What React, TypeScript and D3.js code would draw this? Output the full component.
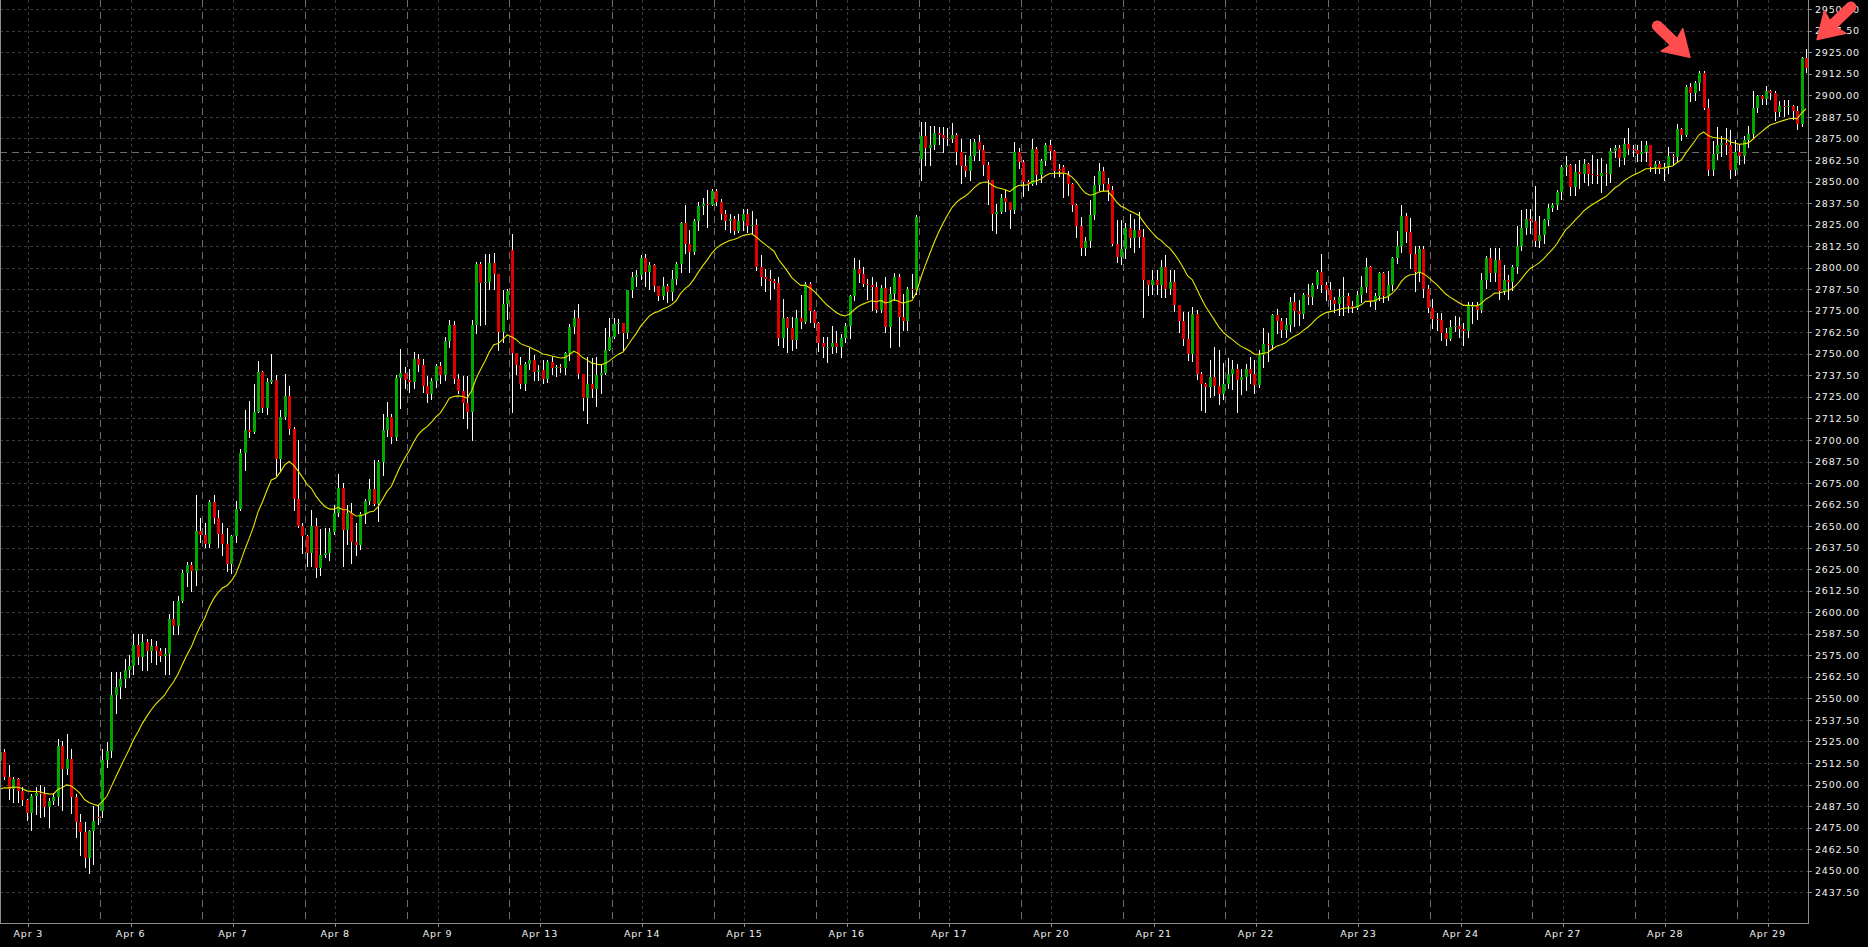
import React from "react";
import * as d3 from "d3";

// ---------- data ----------
const sessionLabels = [
  "Apr 3", "Apr 6", "Apr 7", "Apr 8", "Apr 9", "Apr 13", "Apr 14", "Apr 15", "Apr 16",
  "Apr 17", "Apr 20", "Apr 21", "Apr 22", "Apr 23", "Apr 24", "Apr 27", "Apr 28", "Apr 29",
];

const yTickValues = [
  2437.5, 2450, 2462.5, 2475, 2487.5, 2500, 2512.5, 2525, 2537.5, 2550, 2562.5, 2575, 2587.5,
  2600, 2612.5, 2625, 2637.5, 2650, 2662.5, 2675, 2687.5, 2700, 2712.5, 2725, 2737.5, 2750,
  2762.5, 2775, 2787.5, 2800, 2812.5, 2825, 2837.5, 2850, 2862.5, 2875, 2887.5, 2900, 2912.5,
  2925, 2937.5, 2950,
];

const opens = [
  2513.9,2518.7,2504.6,2497.5,2503.3,2496.5,2491.1,2483.5,2493.2,2495.1,2494.4,2487.2,2490.7,2493.0,2522.6,2509.1,2514.9,2493.0,2478.5,2472.7,2457.6,2473.1,2481.0,
  2484.7,2514.1,2519.2,2551.9,2556.9,2561.4,2566.4,2569.0,2581.0,2574.0,2582.8,2577.8,2580.3,2577.3,2574.7,2576.0,2596.1,2592.3,2606.7,2623.0,2627.5,2623.8,2647.4,
  2644.9,2639.9,2664.0,2654.5,2645.7,2639.9,2628.1,2644.4,2660.0,2692.2,2706.0,2704.8,2716.1,2739.5,2718.6,2733.7,2734.9,2689.2,2713.3,2725.4,2706.5,2665.8,2649.9,
  2644.4,2634.3,2650.2,2625.5,2633.1,2634.3,2646.4,2657.5,2672.1,2647.7,2657.5,2640.6,2638.9,2657.0,2664.5,2671.3,2662.8,2687.2,2706.0,2713.6,2701.5,2735.7,2738.7,
  2735.0,2733.7,2747.0,2743.7,2731.2,2726.6,2734.2,2743.2,2737.5,2757.6,2766.9,2735.3,2728.5,2721.7,2716.3,2766.6,2802.0,2791.2,2791.8,2803.0,2796.2,2762.7,2779.2,
  2810.5,2750.2,2743.4,2732.7,2744.0,2746.7,2739.5,2740.5,2735.3,2745.3,2742.0,2742.6,2741.6,2750.2,2765.6,2770.5,2738.5,2724.6,2732.4,2729.5,2737.6,2739.0,2752.5,
  2759.8,2767.2,2767.7,2761.8,2786.9,2794.3,2795.6,2805.7,2797.6,2801.4,2789.3,2783.4,2789.3,2786.0,2793.7,2802.0,2826.0,2813.6,2809.2,2827.0,2835.7,2837.2,2836.3,
  2844.6,2838.2,2831.4,2827.2,2828.5,2821.4,2827.0,2831.0,2824.1,2824.7,2800.1,2794.3,2793.7,2792.4,2791.2,2758.9,2770.5,2764.7,2758.3,2770.5,2768.6,2790.4,2774.9,
  2768.0,2756.4,2753.7,2754.0,2756.4,2754.0,2759.4,2766.0,2783.4,2799.5,2796.6,2790.8,2789.8,2788.9,2775.3,2788.3,2765.3,2785.0,2794.7,2771.5,2769.1,2787.9,2787.3,
  2863.3,2876.3,2869.5,2871.1,2877.9,2877.1,2875.5,2874.4,2876.9,2867.2,2859.1,2856.0,2864.7,2873.0,2868.2,2859.5,2851.1,2831.0,2832.4,2840.5,2838.2,2833.7,2867.0,
  2861.4,2849.8,2848.8,2869.1,2853.7,2861.8,2871.1,2867.8,2857.0,2858.5,2854.2,2848.8,2836.2,2824.3,2811.5,2815.3,2830.4,2848.2,2856.2,2848.8,2845.3,2814.0,2806.3,
  2811.1,2823.1,2817.5,2821.7,2817.9,2792.7,2789.8,2792.7,2790.2,2800.1,2787.9,2791.8,2778.2,2769.1,2758.8,2749.8,2773.0,2738.2,2732.3,2730.8,2736.6,2731.2,2726.9,
  2732.7,2738.5,2741.4,2735.0,2736.6,2741.4,2738.1,2731.8,2749.2,2755.9,2755.0,2772.4,2769.1,2764.1,2766.6,2780.1,2774.9,2773.4,2784.0,2783.0,2789.8,2797.6,2789.8,
  2787.0,2781.1,2779.2,2783.0,2783.4,2777.6,2776.6,2784.4,2788.8,2800.4,2779.9,2783.4,2796.9,2783.4,2790.2,2805.6,2812.4,2830.2,2820.6,2808.2,2797.3,2810.9,2787.7,
  2776.6,2770.2,2769.5,2762.1,2758.6,2765.6,2766.0,2764.5,2763.5,2777.6,2777.8,2775.3,2792.7,2805.6,2796.9,2804.7,2786.3,2792.7,2791.5,2800.4,2812.8,2823.0,2828.0,
  2827.0,2815.3,2819.2,2827.5,2834.7,2836.6,2844.0,2858.5,2859.3,2846.9,2855.4,2854.6,2860.4,2854.6,2853.6,2853.0,2855.0,2854.6,2867.6,2869.5,2863.7,2872.0,2868.9,
  2868.2,2866.2,2867.2,2871.4,2858.5,2860.4,2857.3,2858.5,2865.0,2864.2,2880.5,2877.2,2904.9,2901.4,2907.2,2913.0,2892.7,2856.9,2866.2,2871.4,2872.4,2871.4,2856.5,
  2867.2,2864.7,2874.0,2877.8,2892.7,2899.5,2898.1,2902.4,2901.4,2890.2,2894.1,2893.4,2894.1,2890.8,2883.1,2921.7,
];

const highs = [
  2524.5,2520.7,2511.6,2504.6,2503.8,2498.4,2491.6,2494.5,2498.4,2499.8,2498.4,2492.2,2495.0,2526.5,2525.5,2529.4,2520.7,2494.5,2482.9,2478.1,2473.9,2487.8,2488.0,
  2520.7,2524.5,2565.2,2565.2,2565.2,2572.7,2575.0,2587.1,2587.1,2587.1,2584.5,2584.5,2583.5,2579.0,2579.0,2599.1,2606.7,2609.2,2624.3,2629.3,2629.3,2668.3,2654.5,
  2651.9,2665.0,2668.3,2659.5,2651.9,2648.7,2644.9,2664.5,2694.7,2717.3,2722.4,2732.4,2745.8,2740.0,2736.2,2750.0,2737.5,2717.3,2738.2,2731.2,2707.3,2699.7,2652.0,
  2645.0,2659.5,2654.5,2648.2,2648.7,2648.7,2662.0,2680.4,2675.1,2662.0,2663.3,2651.9,2658.2,2665.8,2677.6,2688.4,2688.4,2714.8,2721.9,2714.8,2737.5,2752.6,2742.5,
  2741.2,2751.3,2750.0,2747.0,2737.0,2736.2,2744.2,2745.0,2760.0,2769.4,2768.9,2738.0,2737.0,2737.0,2769.5,2803.4,2803.4,2808.2,2808.2,2808.6,2796.6,2787.0,2787.4,
  2819.4,2750.2,2748.2,2745.3,2753.6,2749.2,2743.4,2746.3,2746.7,2748.2,2743.4,2744.0,2751.1,2767.2,2775.3,2778.8,2738.5,2748.2,2747.3,2748.2,2744.0,2764.7,2770.5,
  2770.5,2770.0,2767.7,2787.0,2797.6,2798.5,2807.3,2808.2,2803.4,2802.4,2789.3,2794.7,2790.8,2798.5,2803.4,2826.6,2836.3,2821.8,2828.5,2838.2,2840.7,2845.0,2845.5,
  2845.4,2840.1,2833.4,2831.4,2829.9,2831.0,2834.3,2834.3,2832.8,2828.0,2807.3,2799.5,2798.9,2793.7,2794.3,2782.1,2771.5,2771.5,2775.3,2784.1,2791.8,2791.8,2775.3,
  2768.6,2759.8,2759.8,2766.0,2763.3,2761.3,2767.6,2784.1,2805.9,2804.3,2800.1,2793.7,2794.7,2791.8,2789.8,2794.7,2788.9,2797.0,2796.6,2785.0,2788.9,2796.2,2830.5,
  2884.6,2884.6,2882.1,2882.1,2881.7,2881.7,2880.8,2883.7,2877.9,2874.4,2865.3,2874.4,2874.4,2876.9,2871.1,2861.4,2851.1,2837.2,2843.0,2844.9,2838.2,2873.0,2869.7,
  2862.4,2850.8,2874.9,2870.1,2863.3,2872.4,2874.0,2868.2,2859.9,2859.5,2856.2,2849.0,2836.8,2829.5,2817.9,2839.1,2853.1,2860.8,2858.5,2852.3,2847.2,2827.5,2827.5,
  2826.0,2831.4,2828.5,2832.4,2822.7,2792.7,2798.5,2798.5,2804.3,2807.2,2798.5,2798.5,2778.2,2774.3,2774.3,2777.2,2775.3,2739.5,2733.1,2746.3,2754.0,2752.5,2744.4,
  2747.3,2746.7,2744.3,2741.4,2744.3,2748.2,2746.3,2752.1,2764.7,2761.8,2773.4,2776.3,2770.5,2770.5,2783.0,2785.4,2781.1,2785.4,2790.8,2791.2,2798.5,2807.8,2791.7,
  2791.7,2783.0,2787.9,2794.3,2785.3,2780.5,2786.3,2795.0,2805.8,2800.8,2785.3,2797.3,2797.3,2797.9,2806.2,2821.1,2836.6,2831.8,2828.9,2812.4,2812.8,2812.4,2790.2,
  2782.0,2773.7,2773.7,2765.0,2769.9,2772.2,2771.4,2767.9,2779.9,2779.9,2779.9,2797.0,2806.6,2811.5,2811.5,2811.5,2801.8,2796.0,2801.8,2824.0,2833.7,2834.0,2834.0,
  2847.3,2829.9,2828.3,2837.2,2837.6,2845.3,2859.8,2864.7,2860.4,2860.4,2862.7,2863.1,2860.8,2865.6,2863.1,2863.7,2860.0,2869.5,2871.4,2871.4,2875.3,2881.1,2871.4,
  2871.4,2873.8,2873.8,2871.4,2861.8,2861.8,2860.8,2870.1,2866.2,2883.1,2881.1,2906.3,2907.2,2908.2,2914.0,2914.0,2898.0,2873.4,2881.7,2876.3,2881.1,2880.1,2874.3,
  2871.5,2876.7,2882.1,2902.4,2900.5,2900.5,2905.3,2903.0,2902.4,2896.6,2897.6,2897.6,2894.7,2894.1,2922.3,2927.0,
];

const lows = [
  2511.0,2503.3,2491.6,2490.1,2490.1,2488.2,2479.7,2473.9,2482.9,2481.4,2481.6,2475.6,2489.0,2488.2,2485.5,2506.0,2483.5,2469.8,2459.3,2452.4,2448.5,2454.1,2477.1,
  2481.0,2510.4,2516.0,2541.3,2550.1,2556.4,2562.7,2563.9,2570.2,2566.4,2566.4,2571.0,2570.2,2571.5,2563.9,2563.9,2587.1,2587.1,2606.2,2615.5,2612.2,2616.0,2640.6,
  2637.6,2638.1,2651.9,2637.9,2633.1,2623.8,2623.0,2640.6,2659.5,2682.6,2702.0,2704.3,2716.1,2716.1,2714.8,2732.9,2679.6,2682.1,2712.3,2703.5,2659.5,2649.4,2634.3,
  2626.8,2626.8,2620.5,2621.8,2632.3,2630.6,2645.7,2655.7,2626.8,2639.4,2628.8,2633.1,2636.9,2651.9,2662.8,2662.0,2653.2,2679.6,2702.3,2698.5,2699.7,2718.6,2730.0,
  2728.0,2729.9,2740.0,2728.0,2721.9,2724.0,2731.0,2733.0,2735.0,2753.8,2733.0,2727.0,2713.0,2707.0,2699.9,2762.2,2766.6,2767.2,2787.9,2787.9,2752.1,2756.9,2770.0,
  2716.3,2738.5,2729.9,2728.9,2741.0,2734.7,2734.7,2733.1,2733.7,2738.5,2737.0,2739.5,2738.5,2746.3,2761.8,2735.7,2717.3,2709.9,2725.0,2719.8,2727.0,2738.5,2752.1,
  2758.9,2762.0,2752.1,2758.9,2783.1,2789.2,2793.3,2789.3,2787.9,2786.5,2781.1,2782.1,2780.2,2781.1,2790.8,2797.6,2808.6,2797.6,2808.2,2821.8,2831.0,2823.7,2836.3,
  2836.3,2828.0,2822.7,2820.8,2819.8,2820.8,2821.8,2820.8,2819.8,2798.5,2789.8,2786.5,2782.1,2788.0,2755.0,2754.0,2751.1,2752.1,2753.1,2765.0,2767.9,2768.6,2765.6,
  2751.7,2748.2,2745.3,2750.2,2751.1,2748.2,2757.0,2758.9,2781.5,2791.8,2789.3,2782.1,2775.3,2774.4,2774.4,2762.7,2754.0,2781.1,2754.4,2763.7,2763.7,2783.0,2785.0,
  2851.1,2859.5,2859.5,2869.1,2872.0,2867.2,2871.0,2873.0,2859.9,2849.2,2853.0,2850.8,2862.4,2862.4,2853.7,2837.2,2821.7,2820.2,2831.8,2833.0,2823.1,2831.8,2858.0,
  2841.5,2845.0,2847.9,2848.8,2850.0,2859.5,2863.0,2852.7,2853.0,2841.1,2842.4,2833.0,2818.0,2807.2,2807.2,2812.1,2828.0,2845.0,2845.0,2839.1,2813.0,2803.4,2802.0,
  2805.9,2812.0,2809.2,2812.0,2771.4,2784.0,2785.0,2785.0,2783.0,2783.0,2785.0,2775.0,2762.7,2755.0,2746.7,2746.0,2735.6,2717.2,2716.3,2725.0,2726.0,2721.1,2724.0,
  2730.0,2729.8,2716.3,2726.9,2728.8,2733.0,2727.3,2730.8,2742.4,2746.0,2753.0,2761.8,2760.0,2760.0,2763.0,2766.0,2767.0,2771.0,2779.0,2779.2,2788.0,2786.0,2781.1,
  2776.0,2774.0,2772.4,2772.4,2774.1,2774.1,2776.0,2780.0,2786.0,2777.6,2776.0,2781.0,2780.0,2781.0,2787.0,2803.0,2809.0,2815.0,2800.0,2786.3,2792.0,2783.0,2774.0,
  2765.0,2764.0,2758.3,2755.3,2757.9,2763.0,2760.0,2755.3,2760.0,2768.0,2770.0,2774.0,2788.2,2792.0,2792.0,2782.0,2784.9,2781.8,2787.3,2797.0,2810.0,2819.8,2820.0,
  2812.4,2812.0,2814.4,2825.0,2832.7,2834.0,2840.0,2854.0,2842.0,2842.4,2846.3,2850.0,2848.0,2849.0,2849.0,2843.8,2848.0,2850.0,2864.0,2858.9,2860.0,2866.0,2865.0,
  2862.0,2861.8,2862.0,2856.0,2855.0,2855.0,2851.1,2855.0,2860.0,2862.0,2874.0,2876.7,2897.0,2897.6,2903.4,2892.1,2854.0,2854.0,2863.0,2865.0,2866.0,2852.1,2854.0,
  2860.0,2860.8,2870.0,2875.0,2890.2,2895.0,2895.0,2898.0,2885.6,2888.3,2888.0,2889.0,2886.0,2880.5,2882.1,2913.4,
];

const closes = [
  2518.7,2504.6,2497.5,2503.3,2496.5,2491.1,2483.5,2493.2,2495.1,2494.4,2487.2,2490.7,2493.0,2522.6,2509.1,2514.9,2493.0,2478.5,2472.7,2457.6,2473.1,2478.9,2480.4,
  2514.1,2519.2,2551.9,2556.9,2561.4,2566.4,2569.0,2581.0,2574.0,2582.8,2577.8,2580.3,2577.3,2574.7,2576.0,2596.1,2592.3,2606.7,2623.0,2627.5,2623.8,2647.4,2644.9,
  2639.9,2664.0,2654.5,2645.7,2639.9,2628.1,2644.4,2660.0,2692.2,2706.0,2704.8,2716.1,2739.5,2718.6,2733.7,2734.9,2689.2,2713.3,2725.4,2706.5,2665.8,2649.9,2644.4,
  2634.3,2650.2,2625.5,2633.1,2634.3,2646.4,2657.5,2672.1,2647.7,2657.5,2640.6,2638.9,2657.0,2664.5,2671.3,2662.8,2687.2,2706.0,2713.6,2701.5,2735.7,2738.7,2735.0,
  2733.7,2747.0,2743.7,2731.2,2726.6,2734.2,2743.2,2737.5,2757.6,2766.9,2735.3,2728.5,2721.7,2716.3,2766.6,2802.0,2791.2,2791.8,2803.0,2796.2,2762.7,2779.2,2786.6,
  2750.2,2743.4,2732.7,2744.0,2746.7,2739.5,2740.5,2735.3,2745.3,2742.0,2742.6,2741.6,2750.2,2765.6,2770.5,2738.5,2724.6,2732.4,2729.5,2737.6,2739.0,2752.5,2759.8,
  2767.2,2767.7,2761.8,2786.9,2794.3,2795.6,2805.7,2797.6,2801.4,2789.3,2783.4,2789.3,2786.0,2793.7,2802.0,2826.0,2813.6,2809.2,2827.0,2835.7,2837.2,2836.3,2844.6,
  2838.2,2831.4,2827.2,2828.5,2821.4,2827.0,2831.0,2824.1,2824.7,2800.1,2794.3,2793.7,2792.4,2791.2,2758.9,2770.5,2764.7,2758.3,2770.5,2768.6,2790.4,2774.9,2768.0,
  2756.4,2753.7,2754.0,2756.4,2754.0,2759.4,2766.0,2783.4,2799.5,2796.6,2790.8,2789.8,2788.9,2775.3,2788.3,2765.3,2785.0,2794.7,2771.5,2769.1,2787.9,2787.3,2829.5,
  2876.3,2869.5,2871.1,2877.9,2877.1,2875.5,2874.4,2876.9,2867.2,2859.1,2856.0,2864.7,2873.0,2868.2,2859.5,2851.1,2831.0,2832.4,2840.5,2838.2,2833.7,2867.0,2861.4,
  2849.8,2848.8,2869.1,2853.7,2861.8,2871.1,2867.8,2856.2,2856.2,2854.2,2848.8,2836.2,2824.3,2811.5,2815.3,2830.4,2848.2,2856.2,2848.8,2845.3,2814.0,2806.3,2811.1,
  2823.1,2817.5,2821.7,2817.9,2792.7,2789.8,2792.7,2790.2,2800.1,2787.9,2791.8,2778.2,2769.1,2758.8,2749.8,2773.0,2738.2,2732.3,2730.8,2736.6,2731.2,2726.9,2732.7,
  2738.5,2741.4,2735.0,2736.6,2741.4,2738.1,2731.8,2749.2,2755.9,2755.0,2772.4,2769.1,2764.1,2766.6,2780.1,2774.9,2773.4,2784.0,2783.0,2789.8,2797.6,2789.8,2787.0,
  2781.1,2779.2,2783.0,2783.4,2777.6,2776.6,2784.4,2788.8,2800.4,2779.9,2783.4,2796.9,2783.4,2790.2,2805.6,2812.4,2830.2,2820.6,2808.2,2797.3,2810.9,2787.7,2776.6,
  2770.2,2769.5,2762.1,2758.6,2765.6,2766.0,2764.5,2763.5,2777.6,2777.8,2775.3,2792.7,2805.6,2796.9,2804.7,2786.3,2792.7,2791.5,2800.4,2812.8,2823.0,2828.0,2827.0,
  2815.3,2819.2,2827.5,2834.7,2836.6,2844.0,2858.5,2859.3,2846.9,2855.4,2854.6,2860.4,2854.6,2853.6,2853.0,2855.0,2854.6,2867.6,2869.5,2863.7,2872.0,2868.9,2868.2,
  2866.2,2867.2,2871.4,2858.5,2860.4,2857.3,2858.5,2865.0,2864.2,2880.5,2877.2,2904.9,2901.4,2907.2,2913.0,2892.7,2856.9,2866.2,2871.4,2872.4,2871.4,2856.5,2867.2,
  2864.7,2874.0,2877.8,2892.7,2899.5,2898.1,2902.4,2901.4,2890.2,2894.1,2893.4,2894.1,2890.8,2883.1,2921.7,2915.9,
];

const emaPeriod = 20;
const emaSeed = 2497.5;

const markerLevel = 2867.25;

// annotation arrows: [bar index, price]
const arrowTails = [[372.6, 2940.3], [416.1, 2951.3]];
const arrowTips = [[379.9, 2922.1], [408.5, 2932.4]];

// ---------- chart ----------
const W = 1868;
const H = 947;
const PLOT_R = 1808;
const PLOT_B = 923;
const BARS_PER_SESSION = 23;

const GREEN = "#00a800";
const RED = "#e00000";
const GRID = "#3a3a3a";
const SEP = "#6c6c6c";
const AXIS = "#8c8c8c";
const FONT = "'DejaVu Sans', Verdana, sans-serif";

function arrowShape(tx: number, ty: number, px: number, py: number) {
  const dx = px - tx;
  const dy = py - ty;
  const len = Math.hypot(dx, dy);
  const ux = dx / len;
  const uy = dy / len;
  const nx = -uy;
  const ny = ux;
  const headLen = 25;
  const headW = 31;
  const bx = px - ux * headLen;
  const by = py - uy * headLen;
  const notch = 4;
  const head = [
    [px, py],
    [bx + (nx * headW) / 2, by + (ny * headW) / 2],
    [bx + ux * notch, by + uy * notch],
    [bx - (nx * headW) / 2, by - (ny * headW) / 2],
  ];
  return {
    shaft: { x1: tx, y1: ty, x2: bx + ux * 6, y2: by + uy * 6 },
    head: head.map((p) => p.join(",")).join(" "),
  };
}

export default function App() {
  const x = d3.scaleLinear().domain([0, 406.45]).range([0, PLOT_R]);
  const y = d3.scaleLinear().domain([2419.66, 2955.35]).range([PLOT_B, 0]);

  const alpha = 2 / (emaPeriod + 1);
  const ema: number[] = [];
  closes.forEach((c, i) => {
    ema.push(i === 0 ? emaSeed : ema[i - 1] + alpha * (c - ema[i - 1]));
  });
  const maPath =
    d3
      .line<number>()
      .x((_, i) => x(i))
      .y((v) => y(v))(ema) || "";

  const separators = d3.range(1, sessionLabels.length).map((k) => x(k * BARS_PER_SESSION - 0.5));
  const tickXs = sessionLabels.map((_, k) => x(k * BARS_PER_SESSION + 6.36));

  const snap = (v: number) => Math.round(v) + 0.5;

  return (
    <svg
      width={W}
      height={H}
      style={{ position: "absolute", left: 0, top: 0, display: "block", background: "#000" }}
    >
      <rect x={0} y={0} width={W} height={H} fill="#000" />
      <defs>
        <clipPath id="plotClip">
          <rect x={0} y={0} width={PLOT_R} height={PLOT_B} />
        </clipPath>
      </defs>

      {/* horizontal grid */}
      <g>
        {yTickValues.map((t) => (
          <line
            key={"hg" + t}
            x1={0}
            x2={PLOT_R}
            y1={snap(y(t))}
            y2={snap(y(t))}
            stroke={GRID}
            strokeDasharray="3,3"
          />
        ))}
      </g>
      {/* vertical grid at tick labels */}
      <g>
        {tickXs.map((tx, k) => (
          <line
            key={"vg" + k}
            x1={snap(tx)}
            x2={snap(tx)}
            y1={0}
            y2={PLOT_B}
            stroke={GRID}
            strokeDasharray="3,3"
          />
        ))}
      </g>
      {/* session separators */}
      <g>
        {separators.map((sx, k) => (
          <line
            key={"sep" + k}
            x1={snap(sx)}
            x2={snap(sx)}
            y1={0}
            y2={PLOT_B}
            stroke={SEP}
            strokeDasharray="7,5"
          />
        ))}
      </g>
      {/* horizontal marker line */}
      <line
        x1={0}
        x2={PLOT_R}
        y1={snap(y(markerLevel))}
        y2={snap(y(markerLevel))}
        stroke={SEP}
        strokeDasharray="7,5"
      />

      {/* candles */}
      <g clipPath="url(#plotClip)">
        {closes.map((c, i) => {
          const o = opens[i];
          const cx = Math.round(x(i));
          const top = y(Math.max(o, c));
          const bot = y(Math.min(o, c));
          const bTop = Math.round(top);
          const bH = Math.max(1, Math.round(bot) - bTop);
          return (
            <g key={"c" + i}>
              <line
                x1={cx + 0.5}
                x2={cx + 0.5}
                y1={Math.round(y(highs[i]))}
                y2={Math.round(y(lows[i])) + 1}
                stroke="#ffffff"
                strokeWidth={1}
              />
              <rect x={cx - 1} y={bTop} width={3} height={bH} fill={c >= o ? GREEN : RED} />
            </g>
          );
        })}
        <path d={maPath} fill="none" stroke="#e6e600" strokeWidth={1.1} />
      </g>

      {/* axes */}
      <line x1={0.5} x2={0.5} y1={0} y2={PLOT_B} stroke={AXIS} />
      <line x1={PLOT_R + 0.5} x2={PLOT_R + 0.5} y1={0} y2={PLOT_B + 1} stroke={AXIS} />
      <line x1={0} x2={PLOT_R + 1} y1={PLOT_B + 0.5} y2={PLOT_B + 0.5} stroke={AXIS} />

      {/* y ticks & labels */}
      <g>
        {yTickValues.map((t) => (
          <g key={"yl" + t}>
            <line
              x1={PLOT_R}
              x2={PLOT_R + 4}
              y1={snap(y(t))}
              y2={snap(y(t))}
              stroke={AXIS}
            />
            <text
              x={PLOT_R + 7}
              y={y(t) + 3.6}
              fill="#f2f2f2"
              fontFamily={FONT}
              fontSize={9.5}
              letterSpacing={0.8}
            >
              {t.toFixed(2)}
            </text>
          </g>
        ))}
      </g>

      {/* x ticks & labels */}
      <g>
        {tickXs.map((tx, k) => (
          <g key={"xl" + k}>
            <line x1={snap(tx)} x2={snap(tx)} y1={PLOT_B} y2={PLOT_B + 4} stroke={AXIS} />
            <text
              x={tx}
              y={PLOT_B + 14}
              fill="#f2f2f2"
              fontFamily={FONT}
              fontSize={9.5}
              letterSpacing={0.8}
              textAnchor="middle"
            >
              {sessionLabels[k]}
            </text>
          </g>
        ))}
      </g>

      {/* annotation arrows */}
      <g>
        {arrowTails.map((tl, k) => {
          const tp = arrowTips[k];
          const a = arrowShape(x(tl[0]), y(tl[1]), x(tp[0]), y(tp[1]));
          return (
            <g key={"ar" + k}>
              <line
                x1={a.shaft.x1}
                y1={a.shaft.y1}
                x2={a.shaft.x2}
                y2={a.shaft.y2}
                stroke="#ff4d4d"
                strokeWidth={11}
                strokeLinecap="round"
              />
              <polygon points={a.head} fill="#ff4d4d" stroke="#ff4d4d" strokeLinejoin="round" strokeWidth={1.5} />
            </g>
          );
        })}
      </g>
    </svg>
  );
}
